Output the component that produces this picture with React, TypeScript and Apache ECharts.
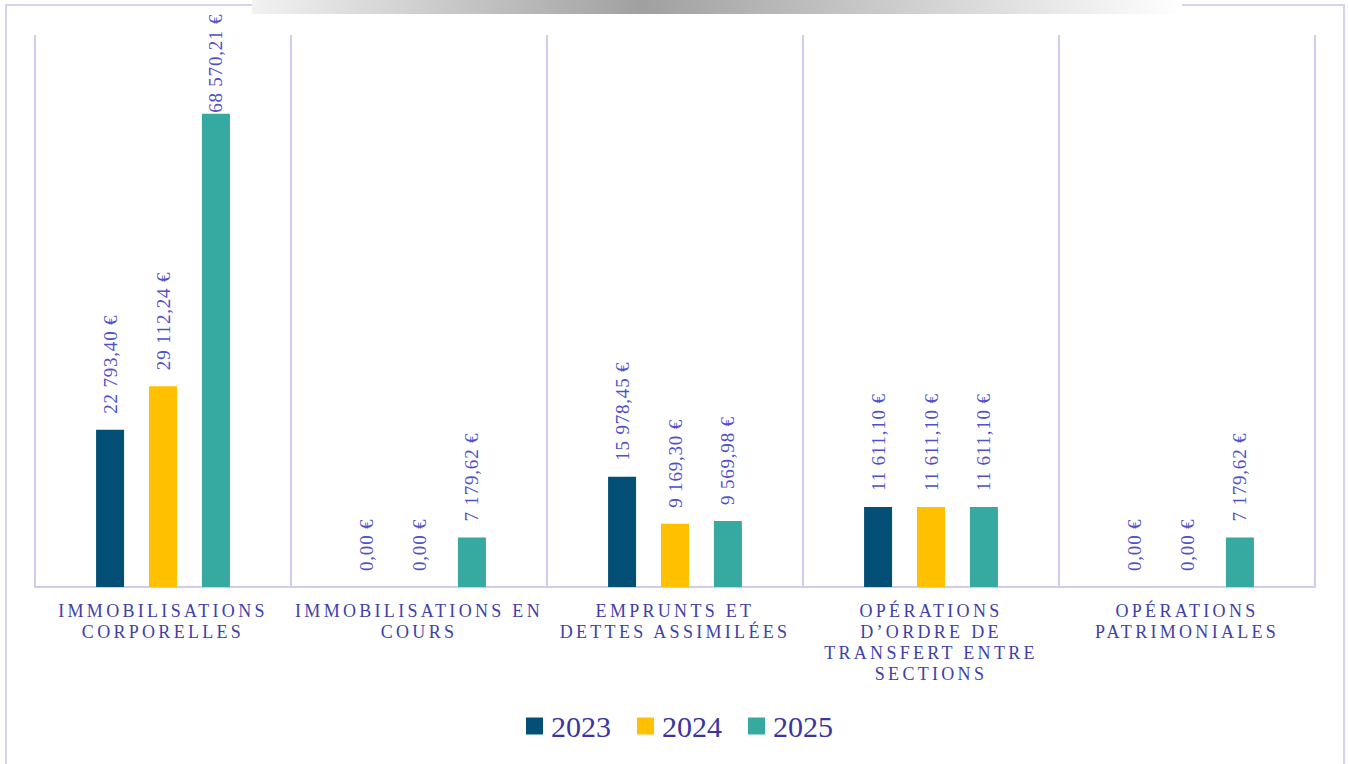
import React, { useEffect, useRef } from "react";
import * as echarts from "echarts";

const categories = [
  "IMMOBILISATIONS\nCORPORELLES",
  "IMMOBILISATIONS EN\nCOURS",
  "EMPRUNTS ET\nDETTES ASSIMILÉES",
  "OPÉRATIONS\nD’ORDRE DE\nTRANSFERT ENTRE\nSECTIONS",
  "OPÉRATIONS\nPATRIMONIALES",
];
const seriesNames = ["2023", "2024", "2025"];
const values2023 = [22793.4, 0, 15978.45, 11611.1, 0];
const values2024 = [29112.24, 0, 9169.3, 11611.1, 0];
const values2025 = [68570.21, 7179.62, 9569.98, 11611.1, 7179.62];
const seriesColors = ["#034F75", "#FFC000", "#36A9A1"];

const formatEuro = (v: number) => {
  const [i, d] = v.toFixed(2).split(".");
  const grouped = i.replace(/\B(?=(\d{3})+(?!\d))/g, " ");
  return `${grouped},${d} €`;
};

export default function App() {
  const ref = useRef<HTMLDivElement>(null);
  useEffect(() => {
    if (!ref.current) return;
    const chart = echarts.init(ref.current, undefined, { renderer: "svg" });
    const all = [values2023, values2024, values2025];
    const maxVal = Math.max(...all.flat());
    const series = all.map((vals, si) => ({
      name: seriesNames[si],
      type: "bar",
      barWidth: 28,
      barGap: "89%",
      itemStyle: { color: seriesColors[si] },
      data: vals.map((v) =>
        v === maxVal ? { value: v, label: { distance: 1 } } : v
      ),
      label: {
        show: true,
        position: "top",
        rotate: 90,
        align: "left",
        verticalAlign: "middle",
        distance: 16,
        color: "#5050C8",
        fontFamily: "Liberation Serif",
        fontSize: 19,
        formatter: (p: any) => formatEuro(p.value),
      },
    }));
    chart.setOption({
      animation: false,
      backgroundColor: "#ffffff",
      grid: { left: 35, right: 33, top: 35, bottom: 177, containLabel: false },
      legend: {
        data: seriesNames,
        left: 526,
        top: 711,
        padding: 0,
        icon: "rect",
        itemWidth: 17,
        itemHeight: 17,
        itemGap: 26,
        textStyle: {
          fontSize: 30,
          color: "#3A35A0",
          fontFamily: "Liberation Serif",
          padding: [0, 0, 0, 3],
        },
      },
      xAxis: {
        type: "category",
        data: categories,
        axisLine: { show: true, lineStyle: { color: "#D0CCF0", width: 2 } },
        axisTick: { show: false },
        splitLine: { show: true, interval: 0, lineStyle: { color: "#D0CCF0", width: 2 } },
        axisLabel: {
          interval: 0,
          margin: 13,
          color: "#4040A8",
          fontFamily: "Liberation Serif",
          fontSize: 18,
          lineHeight: 21,
        },
      },
      yAxis: {
        type: "value",
        min: 0,
        max: 80000,
        show: false,
        splitLine: { show: false },
      },
      graphic: [
        {
          type: "rect",
          shape: { x: 252, y: 0, width: 930, height: 14 },
          style: {
            fill: new echarts.graphic.LinearGradient(0, 0, 1, 0, [
              { offset: 0, color: "#F2F2F2" },
              { offset: 0.42, color: "#A0A0A0" },
              { offset: 1, color: "#FFFFFF" },
            ]),
          },
        },
        { type: "line", shape: { x1: 6, y1: 5, x2: 252, y2: 5 }, style: { stroke: "#D6D2F2", lineWidth: 2 } },
        { type: "line", shape: { x1: 6, y1: 4, x2: 6, y2: 764 }, style: { stroke: "#D6D2F2", lineWidth: 2 } },
        { type: "line", shape: { x1: 1182, y1: 5, x2: 1344, y2: 5 }, style: { stroke: "#D6D2F2", lineWidth: 2 } },
        { type: "line", shape: { x1: 1344, y1: 4, x2: 1344, y2: 764 }, style: { stroke: "#D6D2F2", lineWidth: 2 } },
      ],
      series,
    });

    const catLines = new Set(categories.flatMap((c) => c.split("\n")));
    const labelTexts = new Set(all.flat().map(formatEuro));
    const tweak = () => {
      const root = ref.current;
      if (!root) return;
      root.querySelectorAll("text").forEach((t) => {
        const s = (t.textContent || "").trim();
        if (catLines.has(s)) t.setAttribute("letter-spacing", "3.3");
        else if (labelTexts.has(s)) t.setAttribute("letter-spacing", "0.8");
      });
    };
    chart.on("finished", tweak);
    tweak();
    const raf = requestAnimationFrame(tweak);
    const to = setTimeout(tweak, 50);
    return () => {
      cancelAnimationFrame(raf);
      clearTimeout(to);
      chart.dispose();
    };
  }, []);
  return (
    <div
      ref={ref}
      style={{ position: "fixed", left: 0, top: 0, width: 1348, height: 764, background: "#fff" }}
    />
  );
}
